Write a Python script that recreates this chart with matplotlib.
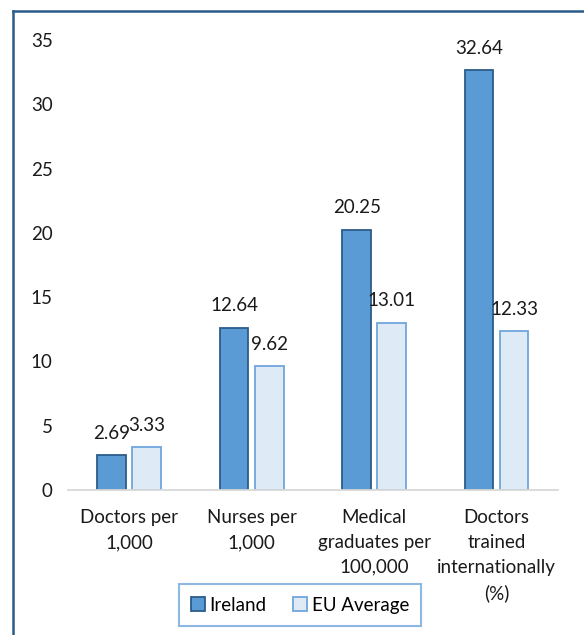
import matplotlib
matplotlib.use('Agg')
import matplotlib.pyplot as plt
import numpy as np
from matplotlib.lines import Line2D

categories = ['Doctors per\n1,000', 'Nurses per\n1,000',
              'Medical\ngraduates per\n100,000',
              'Doctors\ntrained\ninternationally\n(%)']
ireland = [2.69, 12.64, 20.25, 32.64]
eu_avg = [3.33, 9.62, 13.01, 12.33]
yticks = [0, 5, 10, 15, 20, 25, 30, 35]

plt.rcParams['font.family'] = ['Lato', 'DejaVu Sans']
fs = 13.5

fig = plt.figure(figsize=(5.84, 6.35), dpi=100)
ax = fig.add_axes([0.1164, 0.2283, 0.839, 0.7087])

x = np.arange(len(categories))
w = 0.233
off = 0.143
b1 = ax.bar(x - off, ireland, w, color='#5B9BD5', edgecolor='#2B5C8A',
            linewidth=1.3, label='Ireland')
b2 = ax.bar(x + off, eu_avg, w, color='#DEEBF7', edgecolor='#6FA6DC',
            linewidth=1.3, label='EU Average')

for bars, vals in ((b1, ireland), (b2, eu_avg)):
    for r, v in zip(bars, vals):
        ax.annotate(f'{v:.2f}', (r.get_x() + r.get_width() / 2, v),
                    xytext=(0, 12), textcoords='offset points',
                    ha='center', va='baseline', fontsize=fs, color='#1a1a1a')

ax.set_xlim(-0.5, len(categories) - 0.5)
ax.set_ylim(0, 35)
ax.set_yticks(yticks)
ax.set_xticks(x)
ax.set_xticklabels(categories, fontsize=fs, color='#1a1a1a',
                   linespacing=1.55)
ax.tick_params(axis='both', length=0, labelsize=fs, labelcolor='#1a1a1a')
ax.tick_params(axis='x', pad=14)
ax.tick_params(axis='y', pad=11)
for s in ('top', 'right', 'left'):
    ax.spines[s].set_visible(False)
ax.spines['bottom'].set_color('#D9D9D9')
ax.spines['bottom'].set_linewidth(1.3)

leg = fig.legend(handles=[b1, b2], loc='center', bbox_to_anchor=(0.5137, 0.0472),
                 ncol=2, fontsize=fs, frameon=True, fancybox=False,
                 handlelength=0.75, handleheight=0.8, handletextpad=0.25,
                 columnspacing=1.4, borderpad=0.65, borderaxespad=0)
leg.get_frame().set_edgecolor('#6FA6DC')
leg.get_frame().set_linewidth(1.5)

# frame lines along the left and top edges
fig.add_artist(Line2D([12.5 / 584, 12.5 / 584], [0, 1 - 10.5 / 635],
                      transform=fig.transFigure, color='#2B5C8A', lw=1.8))
fig.add_artist(Line2D([12.5 / 584, 1], [1 - 10.5 / 635, 1 - 10.5 / 635],
                      transform=fig.transFigure, color='#2B5C8A', lw=1.8))

fig.savefig('out.png', dpi=100)
